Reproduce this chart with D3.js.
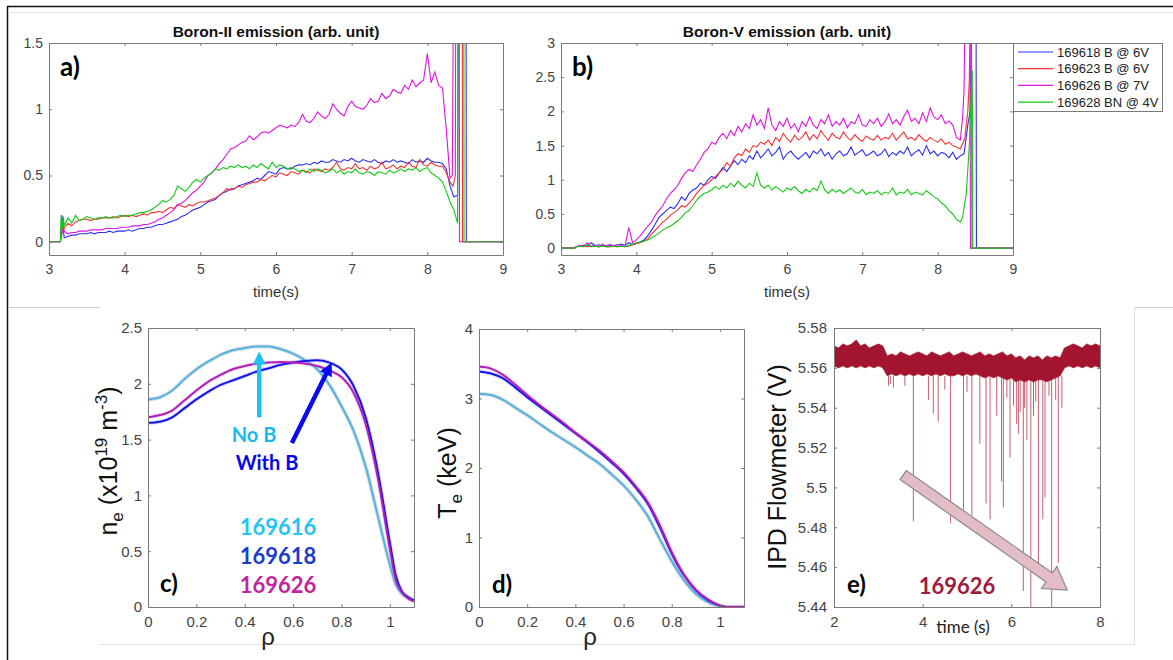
<!DOCTYPE html>
<html>
<head>
<meta charset="utf-8">
<script src="https://cdn.jsdelivr.net/npm/d3@7"></script>
<style>
  body { margin: 0; background: #fff; }
  svg { display: block; }
</style>
</head>
<body>
<svg id="fig" width="1173" height="660"></svg>
<script>
// ---- panel a/b: boron emission, sampled every 0.05 s from 3.20 to 8.30 s ----
const shots = ['169618 B @ 6V', '169623 B @ 6V', '169626 B @ 7V', '169628 BN @ 4V'];
const shotColors = ['#2f2ff2', '#f23434', '#e014e0', '#14c814'];

const bII_618 = [0.03, 0.04, 0.05, 0.05, 0.06, 0.06, 0.06, 0.07, 0.06, 0.07,
  0.07, 0.07, 0.08, 0.07, 0.08, 0.08, 0.08, 0.09, 0.08, 0.09,
  0.10, 0.10, 0.11, 0.11, 0.12, 0.13, 0.13, 0.14, 0.15, 0.16,
  0.17, 0.19, 0.20, 0.22, 0.24, 0.25, 0.26, 0.28, 0.30, 0.31,
  0.32, 0.35, 0.37, 0.38, 0.40, 0.40, 0.42, 0.43, 0.44, 0.45,
  0.46, 0.48, 0.47, 0.50, 0.53, 0.52, 0.51, 0.55, 0.56, 0.55,
  0.55, 0.57, 0.58, 0.58, 0.59, 0.58, 0.60, 0.59, 0.61, 0.60,
  0.60, 0.62, 0.61, 0.60, 0.62, 0.61, 0.63, 0.61, 0.60, 0.62,
  0.61, 0.60, 0.62, 0.60, 0.59, 0.61, 0.60, 0.62, 0.60, 0.61,
  0.60, 0.59, 0.62, 0.60, 0.61, 0.60, 0.63, 0.61, 0.60, 0.60,
  0.59, 0.55, 0.42];
const bII_623 = [0.10, 0.14, 0.12, 0.15, 0.16, 0.17, 0.17, 0.16, 0.17, 0.17,
  0.18, 0.18, 0.18, 0.19, 0.18, 0.19, 0.20, 0.19, 0.20, 0.19,
  0.20, 0.21, 0.20, 0.22, 0.22, 0.23, 0.22, 0.24, 0.26, 0.25,
  0.28, 0.27, 0.26, 0.28, 0.27, 0.29, 0.30, 0.30, 0.31, 0.32,
  0.33, 0.35, 0.37, 0.40, 0.39, 0.40, 0.42, 0.41, 0.43, 0.44,
  0.45, 0.45, 0.47, 0.46, 0.48, 0.50, 0.49, 0.52, 0.51, 0.50,
  0.53, 0.52, 0.51, 0.54, 0.53, 0.52, 0.55, 0.54, 0.53, 0.55,
  0.54, 0.56, 0.60, 0.55, 0.54, 0.56, 0.55, 0.59, 0.55, 0.56,
  0.54, 0.57, 0.55, 0.56, 0.60, 0.55, 0.56, 0.58, 0.55, 0.57,
  0.56, 0.60, 0.57, 0.56, 0.62, 0.58, 0.57, 0.60, 0.58, 0.57,
  0.57, 0.52, 0.45];
const bII_626 = [0.08, 0.06, 0.07, 0.07, 0.08, 0.08, 0.08, 0.09, 0.09, 0.09,
  0.09, 0.10, 0.10, 0.10, 0.10, 0.11, 0.11, 0.11, 0.12, 0.12,
  0.12, 0.13, 0.13, 0.14, 0.15, 0.17, 0.18, 0.20, 0.22, 0.24,
  0.28, 0.29, 0.31, 0.34, 0.37, 0.39, 0.42, 0.45, 0.50, 0.52,
  0.55, 0.59, 0.62, 0.66, 0.70, 0.71, 0.73, 0.75, 0.76, 0.80,
  0.77, 0.79, 0.82, 0.83, 0.82, 0.84, 0.86, 0.88, 0.87, 0.86,
  0.88, 0.87, 0.90, 0.96, 0.91, 0.90, 0.93, 0.98, 0.95, 0.93,
  0.96, 1.04, 1.00, 0.97, 0.95, 1.02, 1.06, 1.02, 1.01, 1.00,
  1.03, 1.08, 1.05, 1.06, 1.12, 1.08, 1.10, 1.15, 1.13, 1.12,
  1.18, 1.15, 1.22, 1.17, 1.20, 1.22, 1.42, 1.20, 1.28, 1.18,
  1.16, 0.85, 0.48];
const bII_628 = [0.12, 0.18, 0.14, 0.20, 0.16, 0.17, 0.19, 0.18, 0.17, 0.18,
  0.18, 0.19, 0.18, 0.18, 0.19, 0.20, 0.19, 0.20, 0.20, 0.21,
  0.22, 0.22, 0.23, 0.24, 0.26, 0.28, 0.31, 0.30, 0.32, 0.35,
  0.42, 0.40, 0.38, 0.41, 0.45, 0.47, 0.45, 0.48, 0.50, 0.52,
  0.55, 0.54, 0.56, 0.55, 0.57, 0.56, 0.58, 0.56, 0.57, 0.55,
  0.58, 0.56, 0.59, 0.57, 0.55, 0.60, 0.56, 0.58, 0.57, 0.55,
  0.56, 0.55, 0.53, 0.54, 0.52, 0.55, 0.53, 0.55, 0.54, 0.52,
  0.53, 0.55, 0.52, 0.54, 0.51, 0.53, 0.52, 0.55, 0.52, 0.51,
  0.53, 0.52, 0.50, 0.53, 0.52, 0.51, 0.54, 0.52, 0.53, 0.55,
  0.53, 0.55, 0.54, 0.56, 0.53, 0.55, 0.56, 0.52, 0.50, 0.48,
  0.45, 0.38, 0.30];
// start-up and shutdown pieces, [time, value]
const bII_head = [
  [[3.0, 0], [3.15, 0], [3.17, 0.2], [3.19, 0.1]],
  [[3.0, 0], [3.15, 0], [3.18, 0.12], [3.19, 0.08]],
  [[3.0, 0], [3.15, 0], [3.18, 0.08], [3.19, 0.1]],
  [[3.0, 0], [3.15, 0], [3.16, 0.2], [3.18, 0.1], [3.19, 0.19]]];
const bII_tail = [
  [[8.35, 0.34], [8.40, 0.35], [8.42, 3.2], [8.51, 3.2], [8.515, 0], [9, 0]],
  [[8.34, 0.42], [8.37, 0.5], [8.38, 3.2], [8.46, 3.2], [8.465, 0], [9, 0]],
  [[8.33, 0.5], [8.36, 3.2], [8.42, 3.2], [8.425, 0], [9, 0]],
  [[8.35, 0.24], [8.40, 0.14], [8.41, 3.2], [8.48, 3.2], [8.485, 0], [9, 0]]];

const bV_618 = [0.02, 0.03, 0.04, 0.03, 0.08, 0.04, 0.05, 0.03, 0.04, 0.05,
  0.04, 0.05, 0.06, 0.04, 0.08, 0.05, 0.07, 0.09, 0.12, 0.18,
  0.26, 0.35, 0.45, 0.50, 0.55, 0.60, 0.58, 0.65, 0.75, 0.70,
  0.80, 0.85, 0.88, 0.95, 0.92, 1.00, 1.05, 1.02, 1.10, 1.18,
  1.12, 1.20, 1.28, 1.22, 1.30, 1.25, 1.35, 1.30, 1.42, 1.32,
  1.38, 1.45, 1.35, 1.40, 1.48, 1.30, 1.38, 1.42, 1.35, 1.30,
  1.35, 1.40, 1.32, 1.42, 1.38, 1.45, 1.35, 1.40, 1.30, 1.38,
  1.42, 1.35, 1.38, 1.48, 1.36, 1.40, 1.44, 1.35, 1.38, 1.42,
  1.35, 1.38, 1.45, 1.34, 1.40, 1.36, 1.42, 1.38, 1.48, 1.35,
  1.40, 1.44, 1.36, 1.50, 1.38, 1.42, 1.35, 1.40, 1.38, 1.32,
  1.40, 1.30, 1.35];
const bV_623 = [0.02, 0.03, 0.02, 0.03, 0.02, 0.03, 0.02, 0.03, 0.02, 0.02,
  0.03, 0.02, 0.03, 0.02, 0.03, 0.05, 0.07, 0.08, 0.10, 0.14,
  0.20, 0.26, 0.32, 0.38, 0.42, 0.48, 0.52, 0.56, 0.62, 0.60,
  0.66, 0.72, 0.80, 0.86, 0.92, 0.95, 1.00, 1.05, 1.10, 1.15,
  1.25, 1.20, 1.32, 1.38, 1.35, 1.45, 1.40, 1.50, 1.48, 1.55,
  1.52, 1.58, 1.50, 1.62, 1.56, 1.68, 1.60, 1.55, 1.65, 1.58,
  1.62, 1.70, 1.58, 1.66, 1.60, 1.72, 1.64, 1.58, 1.68, 1.62,
  1.60, 1.70, 1.62, 1.58, 1.66, 1.60, 1.56, 1.64, 1.60, 1.58,
  1.65, 1.58, 1.62, 1.60, 1.68, 1.58, 1.64, 1.70, 1.60, 1.62,
  1.58, 1.66, 1.60, 1.56, 1.62, 1.58, 1.55, 1.60, 1.52, 1.55,
  1.50, 1.48, 1.45];
const bV_626 = [0.02, 0.04, 0.03, 0.08, 0.03, 0.04, 0.02, 0.06, 0.03, 0.04,
  0.03, 0.05, 0.04, 0.03, 0.30, 0.08, 0.12, 0.18, 0.25, 0.32,
  0.38, 0.48, 0.55, 0.62, 0.72, 0.80, 0.85, 0.92, 1.02, 1.10,
  1.15, 1.12, 1.22, 1.30, 1.40, 1.45, 1.55, 1.52, 1.62, 1.68,
  1.60, 1.72, 1.65, 1.78, 1.70, 1.82, 1.75, 1.95, 1.80, 1.88,
  1.75, 2.05, 1.80, 1.72, 1.85, 1.78, 1.90, 1.75, 1.82, 1.70,
  1.85, 1.78, 1.92, 1.80, 1.75, 1.88, 1.82, 1.95, 1.78, 1.85,
  1.80, 1.90, 1.76, 1.85, 1.82, 1.95, 1.80, 1.78, 1.88, 1.82,
  1.90, 1.78, 1.85, 1.96, 1.82, 1.88, 1.80, 1.92, 2.02, 1.85,
  1.90, 1.82, 1.98, 1.85, 2.05, 1.92, 1.88, 1.95, 1.82, 1.86,
  1.80, 1.62, 1.58];
const bV_628 = [0.02, 0.03, 0.02, 0.05, 0.02, 0.03, 0.02, 0.03, 0.02, 0.02,
  0.03, 0.02, 0.03, 0.02, 0.04, 0.06, 0.08, 0.09, 0.10, 0.12,
  0.15, 0.18, 0.22, 0.26, 0.30, 0.32, 0.36, 0.40, 0.45, 0.52,
  0.55, 0.62, 0.70, 0.76, 0.80, 0.82, 0.85, 0.90, 0.86, 0.92,
  0.88, 0.95, 0.90, 0.98, 0.92, 0.88, 0.95, 0.90, 1.10, 0.92,
  0.88, 0.92, 0.85, 0.90, 0.86, 0.82, 0.88, 0.85, 0.90, 0.84,
  0.80, 0.86, 0.82, 0.88, 0.84, 0.98, 0.85, 0.80, 0.86, 0.82,
  0.85, 0.80, 0.84, 0.88, 0.82, 0.80, 0.86, 0.78, 0.82, 0.80,
  0.84, 0.78, 0.82, 0.80, 0.88, 0.78, 0.82, 0.80, 0.86, 0.78,
  0.82, 0.80, 0.78, 0.84, 0.80, 0.75, 0.72, 0.66, 0.62, 0.55,
  0.50, 0.42, 0.38];
const bV_head = [
  [[3.0, 0], [3.18, 0]], [[3.0, 0], [3.18, 0]], [[3.0, 0], [3.18, 0]], [[3.0, 0], [3.18, 0]]];
const bV_tail = [
  [[8.35, 1.38], [8.40, 1.8], [8.43, 2.0], [8.45, 3.2], [8.51, 3.2], [8.515, 0], [9, 0]],
  [[8.36, 1.6], [8.40, 2.0], [8.42, 2.45], [8.43, 3.2], [8.45, 3.2], [8.455, 0], [9, 0]],
  [[8.33, 1.9], [8.35, 2.3], [8.36, 3.2], [8.43, 3.2], [8.435, 0], [9, 0]],
  [[8.33, 0.45], [8.38, 0.8], [8.42, 1.5], [8.46, 2.6], [8.465, 0], [9, 0]]];

// ---- panels c/d: profiles vs rho ----
const rho = [0, 0.05, 0.1, 0.15, 0.2, 0.25, 0.3, 0.35, 0.4, 0.45, 0.5, 0.55, 0.6,
  0.65, 0.7, 0.75, 0.8, 0.85, 0.9, 0.95, 1.0, 1.025, 1.05, 1.075, 1.1];
const profShots = ['169616', '169618', '169626'];
const profColors = ['#52b4e4', '#1414e6', '#b41cb4'];
const profHalo = ['#9a9a9a', '#8a8af5', '#d8a0d8'];
const ne_616 = [1.86, 1.88, 1.94, 2.04, 2.13, 2.20, 2.26, 2.30, 2.32, 2.335, 2.335, 2.31, 2.27,
  2.21, 2.13, 1.99, 1.80, 1.58, 1.26, 0.82, 0.38, 0.20, 0.12, 0.08, 0.06];
const ne_618 = [1.65, 1.66, 1.70, 1.78, 1.86, 1.93, 1.99, 2.03, 2.07, 2.11, 2.14, 2.17, 2.19,
  2.205, 2.21, 2.19, 2.13, 1.98, 1.70, 1.22, 0.58, 0.28, 0.14, 0.09, 0.06];
const ne_626 = [1.70, 1.72, 1.76, 1.85, 1.94, 2.02, 2.08, 2.13, 2.16, 2.18, 2.19, 2.195, 2.19,
  2.18, 2.16, 2.12, 2.06, 1.92, 1.64, 1.16, 0.52, 0.24, 0.13, 0.08, 0.05];
const te_616 = [3.07, 3.05, 2.98, 2.87, 2.76, 2.64, 2.52, 2.41, 2.30, 2.18, 2.06, 1.91, 1.75,
  1.55, 1.31, 0.98, 0.66, 0.39, 0.19, 0.07, 0.01, 0, 0, 0, 0];
const te_618 = [3.39, 3.36, 3.29, 3.16, 3.02, 2.89, 2.76, 2.63, 2.50, 2.37, 2.23, 2.08, 1.92,
  1.72, 1.49, 1.15, 0.77, 0.46, 0.24, 0.10, 0.02, 0, 0, 0, 0];
const te_626 = [3.46, 3.43, 3.34, 3.20, 3.05, 2.91, 2.78, 2.65, 2.51, 2.38, 2.25, 2.10, 1.94,
  1.74, 1.51, 1.18, 0.79, 0.47, 0.25, 0.11, 0.02, 0, 0, 0, 0];

// ---- panel e: IPD flowmeter, envelope every 0.1 s from 2.0 to 8.0 s ----
const ipdUpper = [5.571, 5.570, 5.572, 5.571, 5.572, 5.574, 5.571, 5.572, 5.570, 5.571,
  5.572, 5.571, 5.566, 5.567, 5.566, 5.568, 5.567, 5.566, 5.567, 5.568,
  5.567, 5.566, 5.568, 5.567, 5.566, 5.567, 5.568, 5.566, 5.567, 5.568,
  5.567, 5.566, 5.567, 5.568, 5.566, 5.567, 5.566, 5.567, 5.568, 5.566,
  5.567, 5.565, 5.566, 5.564, 5.566, 5.565, 5.566, 5.564, 5.566, 5.565,
  5.566, 5.565, 5.570, 5.571, 5.572, 5.571, 5.570, 5.572, 5.571, 5.572, 5.571];
const ipdLower = [5.561, 5.560, 5.561, 5.560, 5.561, 5.560, 5.561, 5.560, 5.561, 5.560,
  5.561, 5.560, 5.556, 5.557, 5.556, 5.557, 5.556, 5.557, 5.556, 5.557,
  5.556, 5.557, 5.556, 5.557, 5.556, 5.557, 5.556, 5.556, 5.557, 5.556,
  5.557, 5.556, 5.557, 5.556, 5.555, 5.556, 5.555, 5.556, 5.555, 5.554,
  5.555, 5.553, 5.554, 5.553, 5.554, 5.553, 5.554, 5.554, 5.553, 5.554,
  5.555, 5.556, 5.560, 5.561, 5.560, 5.561, 5.560, 5.561, 5.560, 5.561, 5.560];
const spikeT = [3.23, 3.27, 3.34, 3.60, 3.79, 4.13, 4.24, 4.35, 4.50, 4.63, 4.92, 5.00, 5.11,
  5.29, 5.43, 5.52, 5.67, 5.78, 5.82, 5.90, 5.97, 6.05, 6.12, 6.16, 6.20, 6.27, 6.30,
  6.35, 6.44, 6.50, 6.55, 6.61, 6.71, 6.76, 6.85, 6.91, 7.00, 7.06, 7.14];
const spikeMin = [5.551, 5.552, 5.550, 5.551, 5.483, 5.544, 5.537, 5.533, 5.549, 5.482, 5.489, 5.548, 5.486,
  5.522, 5.492, 5.484, 5.536, 5.503, 5.490, 5.545, 5.515, 5.541, 5.532, 5.527, 5.538, 5.448, 5.540,
  5.524, 5.430, 5.536, 5.543, 5.462, 5.484, 5.495, 5.546, 5.430, 5.544, 5.462, 5.540];

const svg = d3.select('#fig');
const sansFont = "'Liberation Sans', Arial, sans-serif";
const callFont = "Lato, 'Open Sans', sans-serif";

// page frame
svg.append('line').attr('x1', 7).attr('x2', 1173).attr('y1', 6.5).attr('y2', 6.5)
  .attr('stroke', '#111').attr('stroke-width', 1.5);
svg.append('line').attr('x1', 7.5).attr('x2', 7.5).attr('y1', 6).attr('y2', 660)
  .attr('stroke', '#111').attr('stroke-width', 1.5);
svg.append('line').attr('x1', 8).attr('x2', 1173).attr('y1', 12.5).attr('y2', 12.5)
  .attr('stroke', '#e2e2e2');
svg.append('line').attr('x1', 8).attr('x2', 100).attr('y1', 307.5).attr('y2', 307.5)
  .attr('stroke', '#cfcfcf');
svg.append('line').attr('x1', 1135).attr('x2', 1173).attr('y1', 307.5).attr('y2', 307.5)
  .attr('stroke', '#cfcfcf');
svg.append('line').attr('x1', 1134.5).attr('x2', 1134.5).attr('y1', 307).attr('y2', 644)
  .attr('stroke', '#e0e0e0');
svg.append('line').attr('x1', 100).attr('x2', 1135).attr('y1', 644.5).attr('y2', 644.5)
  .attr('stroke', '#e0e0e0');

/**
 * Build one boxed axes, ticks inside on all four sides (matlab style)
 */
function makePanel(o) {
  const x = d3.scaleLinear().domain(o.xd).range([o.x0, o.x1]);
  const y = d3.scaleLinear().domain(o.yd).range([o.y1, o.y0]);
  const id = 'clip-' + o.name;
  svg.append('clipPath').attr('id', id).append('rect')
    .attr('x', o.x0).attr('y', o.y0).attr('width', o.x1 - o.x0).attr('height', o.y1 - o.y0);
  const data = svg.append('g').attr('clip-path', `url(#${id})`);
  const axes = svg.append('g');
  return {x, y, data, axes, o};
}

function drawAxes(p) {
  const o = p.o;
  const fmt = o.fmt || (d => d3.format('~g')(d));
  const style = sel => {
    sel.select('.domain').attr('stroke', '#7a7a7a');
    sel.selectAll('.tick line').attr('stroke', '#7a7a7a');
    sel.selectAll('.tick text').attr('fill', '#444').attr('font-family', sansFont)
      .attr('font-size', o.tickFont);
  };
  p.axes.append('g').attr('transform', `translate(0,${o.y1})`)
    .call(d3.axisBottom(p.x).tickValues(o.xt).tickSize(-3).tickSizeOuter(0).tickPadding(o.xpad).tickFormat(fmt))
    .call(style);
  p.axes.append('g').attr('transform', `translate(0,${o.y0})`)
    .call(d3.axisTop(p.x).tickValues(o.xt).tickSize(-3).tickSizeOuter(0).tickFormat(''))
    .call(style);
  p.axes.append('g').attr('transform', `translate(${o.x0},0)`)
    .call(d3.axisLeft(p.y).tickValues(o.yt).tickSize(-3).tickSizeOuter(0).tickPadding(o.ypad).tickFormat(fmt))
    .call(style);
  p.axes.append('g').attr('transform', `translate(${o.x1},0)`)
    .call(d3.axisRight(p.y).tickValues(o.yt).tickSize(-3).tickSizeOuter(0).tickFormat(''))
    .call(style);
  p.axes.selectAll('.domain').attr('stroke-width', 1);
}

function label(txt, x, y, opt) {
  return svg.append('text').attr('x', x).attr('y', y)
    .attr('text-anchor', opt.anchor || 'middle')
    .attr('font-family', opt.font || sansFont)
    .attr('font-size', opt.size)
    .attr('font-weight', opt.weight || 'normal')
    .attr('fill', opt.color || '#222')
    .text(txt);
}

// ---------------- panels a and b ----------------
const tGrid = bII_618.map((v, i) => 3.2 + 0.05 * i);
function emissionPanel(name, x0, x1, yd, yt, series, heads, tails, title, letter) {
  const p = makePanel({name, xd: [3, 9], yd, x0, x1, y0: 43, y1: 255,
    xt: d3.range(3, 10), yt, tickFont: 14, xpad: 9, ypad: 6});
  const line = d3.line().x(d => p.x(d[0])).y(d => p.y(d[1]));
  series.forEach((vals, k) => {
    const pts = heads[k].concat(vals.map((v, i) => [tGrid[i], v]), tails[k]);
    p.data.append('path').attr('d', line(pts)).attr('fill', 'none')
      .attr('stroke', shotColors[k]).attr('stroke-width', 1.1);
  });
  drawAxes(p);
  label(title, (x0 + x1) / 2, 37, {size: 15.5, weight: 'bold', color: '#111'});
  label('time(s)', (x0 + x1) / 2, 297, {size: 15, color: '#333'});
  label(letter, x0 + 11, 76, {size: 26, weight: 'bold', font: callFont, anchor: 'start', color: '#000'});
  return p;
}
emissionPanel('a', 49, 503, [-0.1, 1.5], [0, 0.5, 1, 1.5],
  [bII_618, bII_623, bII_626, bII_628], bII_head, bII_tail, 'Boron-II emission (arb. unit)', 'a)');
emissionPanel('b', 561, 1013, [-0.1, 3], [0, 0.5, 1, 1.5, 2, 2.5, 3],
  [bV_618, bV_623, bV_626, bV_628], bV_head, bV_tail, 'Boron-V emission (arb. unit)', 'b)');

// legend
const leg = svg.append('g');
leg.append('rect').attr('x', 1013.5).attr('y', 43.5).attr('width', 149).attr('height', 68)
  .attr('fill', '#fff').attr('stroke', '#7a7a7a');
shots.forEach((s, i) => {
  const yy = 52 + i * 16.7;
  leg.append('line').attr('x1', 1018).attr('x2', 1053).attr('y1', yy).attr('y2', yy)
    .attr('stroke', shotColors[i]).attr('stroke-width', 1.2);
  leg.append('text').attr('x', 1057).attr('y', yy + 4.5).attr('font-family', sansFont)
    .attr('font-size', 13).attr('fill', '#222').text(s);
});

// ---------------- panels c and d ----------------
function profilePanel(name, x0, x1, y0, ymax, yt, series) {
  const p = makePanel({name, xd: [0, 1.1], yd: [0, ymax], x0, x1, y0, y1: 607,
    xt: [0, 0.2, 0.4, 0.6, 0.8, 1], yt, tickFont: 15, xpad: 9, ypad: 6});
  const line = d3.line().x((d, i) => p.x(rho[i])).y(d => p.y(d)).curve(d3.curveMonotoneX);
  series.forEach((vals, k) => {
    p.data.append('path').attr('d', line(vals)).attr('fill', 'none')
      .attr('stroke', profHalo[k]).attr('stroke-width', 4).attr('stroke-opacity', k === 0 ? 0.35 : 0.3);
  });
  series.forEach((vals, k) => {
    p.data.append('path').attr('d', line(vals)).attr('fill', 'none')
      .attr('stroke', profColors[k]).attr('stroke-width', 2);
  });
  drawAxes(p);
  return p;
}

function arrowPoly(x1, y1, x2, y2, shaft, head, headLen) {
  const dx = x2 - x1, dy = y2 - y1, L = Math.hypot(dx, dy);
  const ux = dx / L, uy = dy / L, nx = -uy, ny = ux;
  const bx = x2 - ux * headLen, by = y2 - uy * headLen;
  const pts = [
    [x1 + nx * shaft / 2, y1 + ny * shaft / 2], [bx + nx * shaft / 2, by + ny * shaft / 2],
    [bx + nx * head / 2, by + ny * head / 2], [x2, y2],
    [bx - nx * head / 2, by - ny * head / 2], [bx - nx * shaft / 2, by - ny * shaft / 2],
    [x1 - nx * shaft / 2, y1 - ny * shaft / 2]];
  return 'M' + pts.map(q => q.join(',')).join('L') + 'Z';
}

const pc = profilePanel('c', 148, 414, 328, 2.5, [0, 0.5, 1, 1.5, 2, 2.5], [ne_616, ne_618, ne_626]);
svg.append('path').attr('d', arrowPoly(pc.x(0.46), pc.y(1.70), pc.x(0.46), pc.y(2.29), 4.5, 13, 13))
  .attr('fill', '#1ec0f0');
svg.append('path').attr('d', arrowPoly(pc.x(0.595), pc.y(1.47), pc.x(0.76), pc.y(2.19), 4.5, 13, 13))
  .attr('fill', '#0a0af0');
label('No B', 254, 442, {size: 20, weight: 'bold', font: callFont, color: '#1bb8ec'});
label('With B', 267, 470, {size: 20, weight: 'bold', font: callFont, color: '#0606ea'});
label('169616', 278, 535, {size: 22, weight: 'bold', font: callFont, color: '#22c4f0'});
label('169618', 278, 564, {size: 22, weight: 'bold', font: callFont, color: '#1c3ccb'});
label('169626', 278, 593, {size: 22, weight: 'bold', font: callFont, color: '#c0259c'});
label('c)', 160, 592, {size: 24, weight: 'bold', font: callFont, anchor: 'start', color: '#000'});
label('\u03c1', 268, 645, {size: 24, color: '#222'});

// n_e label
const neLab = svg.append('text').attr('transform', 'translate(117,461) rotate(-90)')
  .attr('text-anchor', 'middle').attr('font-family', sansFont).attr('font-size', 25).attr('fill', '#111');
neLab.append('tspan').text('n');
neLab.append('tspan').attr('font-size', 17).attr('dy', 6).text('e');
neLab.append('tspan').attr('dy', -6).text(' (x10');
neLab.append('tspan').attr('font-size', 17).attr('dy', -10).text('19');
neLab.append('tspan').attr('dy', 10).text(' m');
neLab.append('tspan').attr('font-size', 17).attr('dy', -10).text('-3');
neLab.append('tspan').attr('dy', 10).text(')');

const pd = profilePanel('d', 479, 744, 329, 4, [0, 1, 2, 3, 4], [te_616, te_618, te_626]);
label('d)', 492, 593, {size: 24, weight: 'bold', font: callFont, anchor: 'start', color: '#000'});
label('\u03c1', 590, 645, {size: 24, color: '#222'});
const teLab = svg.append('text').attr('transform', 'translate(456,473) rotate(-90)')
  .attr('text-anchor', 'middle').attr('font-family', sansFont).attr('font-size', 25).attr('fill', '#111');
teLab.append('tspan').text('T');
teLab.append('tspan').attr('font-size', 17).attr('dy', 6).text('e');
teLab.append('tspan').attr('dy', -6).text(' (keV)');

// ---------------- panel e ----------------
const pe = makePanel({name: 'e', xd: [2, 8], yd: [5.44, 5.58], x0: 834, x1: 1100, y0: 328, y1: 607,
  xt: [2, 4, 6, 8], yt: d3.range(5.44, 5.5801, 0.02), tickFont: 15, xpad: 9, ypad: 7,
  fmt: d => d3.format('~g')(+d.toFixed(2))});
const tIpd = ipdUpper.map((v, i) => 2 + 0.1 * i);
pe.data.selectAll('line.spike').data(spikeT).join('line').attr('class', 'spike')
  .attr('x1', d => pe.x(d)).attr('x2', d => pe.x(d))
  .attr('y1', pe.y(5.556)).attr('y2', (d, i) => pe.y(spikeMin[i]))
  .attr('stroke', '#b8354f').attr('stroke-width', 1).attr('stroke-opacity', 0.8);
pe.data.append('path')
  .attr('d', d3.area().x((d, i) => pe.x(tIpd[i])).y0((d, i) => pe.y(ipdLower[i])).y1(d => pe.y(d))(ipdUpper))
  .attr('fill', '#a3142f').attr('stroke', '#a3142f').attr('stroke-width', 0.8);
drawAxes(pe);
svg.append('path').attr('d', arrowPoly(pe.x(3.56), pe.y(5.5062), pe.x(7.26), pe.y(5.4485), 11, 27, 22))
  .attr('fill', '#e3bcc5').attr('stroke', '#8a8a8a').attr('stroke-width', 1.2);
label('e)', 847, 593, {size: 24, weight: 'bold', font: callFont, anchor: 'start', color: '#000'});
label('169626', 957, 594, {size: 22, weight: 'bold', font: callFont, color: '#9e1b3e'});
label('time (s)', 963, 633, {size: 17, font: callFont, color: '#222'});
svg.append('text').attr('transform', 'translate(786,467) rotate(-90)')
  .attr('text-anchor', 'middle').attr('font-family', sansFont).attr('font-size', 25).attr('fill', '#111')
  .text('IPD Flowmeter (V)');
</script>
</body>
</html>
